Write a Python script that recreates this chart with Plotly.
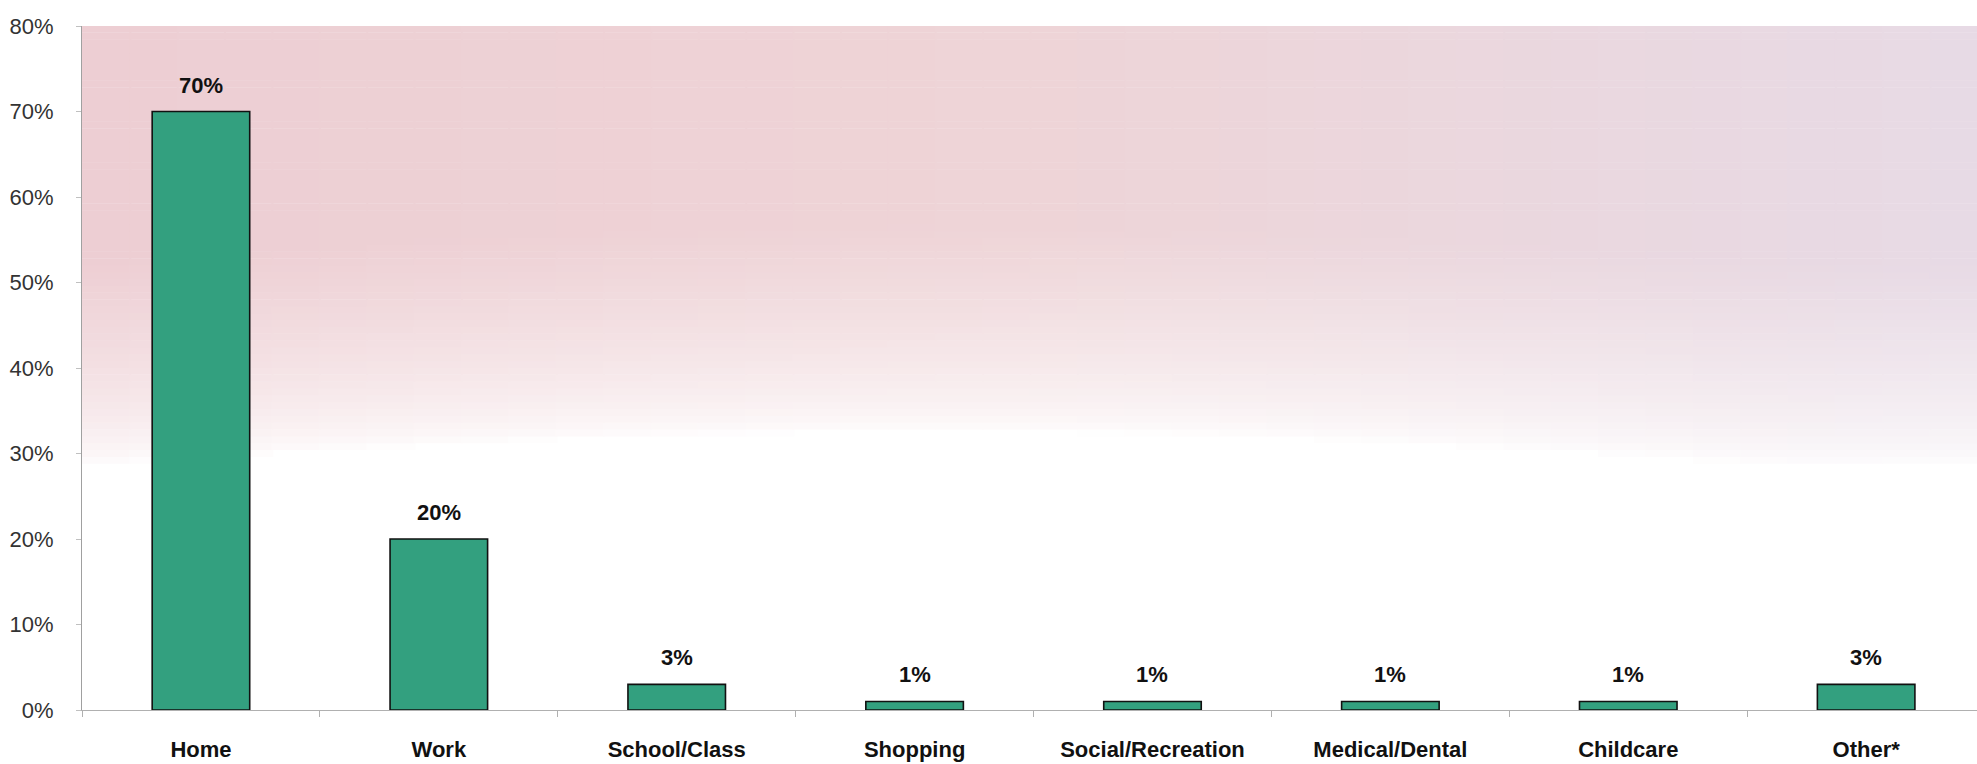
import math
import plotly.graph_objects as go

categories = ["Home", "Work", "School/Class", "Shopping", "Social/Recreation",
              "Medical/Dental", "Childcare", "Other*"]
values = [70, 20, 3, 1, 1, 1, 1, 3]
value_labels = ["70%", "20%", "3%", "1%", "1%", "1%", "1%", "3%"]
y_ticks = [0, 10, 20, 30, 40, 50, 60, 70, 80]
y_tick_labels = ["0%", "10%", "20%", "30%", "40%", "50%", "60%", "70%", "80%"]

fig = go.Figure()
fig.add_trace(go.Bar(
    x=categories, y=values, width=0.41,
    marker=dict(color="#33a07f", line=dict(color="#111111", width=1.6)),
    hoverinfo="skip", showlegend=False,
))

for c, v, t in zip(categories, values, value_labels):
    fig.add_annotation(x=c, y=v, text="<b>%s</b>" % t, showarrow=False,
                       yanchor="bottom", yshift=12,
                       font=dict(family="Liberation Sans, Arial", size=22, color="#111111"))

# background gradient (pink top fading to white)
def lerp(a, b, t):
    return a + (b - a) * t

left_c = (237, 206, 211)
mid_c = (238, 212, 215)
right_c = (231, 218, 229)
ncol, nrow = 40, 100
shapes = []
for i in range(ncol):
    fx = (i + 0.5) / ncol
    if fx < 0.5:
        col = [lerp(left_c[k], mid_c[k], fx / 0.5) for k in range(3)]
    else:
        col = [lerp(mid_c[k], right_c[k], (fx - 0.5) / 0.5) for k in range(3)]
    lo = 28.5 + 4 * math.sin(math.pi * min(fx / 0.9, 1.0))
    hi = lo + 24
    for j in range(nrow):
        y0 = 80 * j / nrow
        y1 = 80 * (j + 1) / nrow
        ym = (y0 + y1) / 2
        a = min(1.0, max(0.0, (ym - lo) / (hi - lo))) ** 0.6
        if a <= 0:
            continue
        r = round(lerp(255, col[0], a))
        g = round(lerp(255, col[1], a))
        b = round(lerp(255, col[2], a))
        shapes.append(dict(type="rect", xref="paper", yref="y",
                           x0=i / ncol, x1=(i + 1) / ncol + 0.001,
                           y0=y0, y1=y1 + 0.05, layer="below",
                           line=dict(width=0), fillcolor="rgb(%d,%d,%d)" % (r, g, b)))

fig.update_layout(
    width=1977, height=764,
    margin=dict(l=82, r=0, t=26, b=54),
    paper_bgcolor="white", plot_bgcolor="white",
    shapes=shapes,
    xaxis=dict(range=[-0.5, 7.466], showgrid=False, showline=True,
               linecolor="#b0b0b0", linewidth=1, ticks="outside",
               tickson="boundaries", ticklen=6, tickcolor="#b0b0b0",
               tickmode="array", tickvals=categories,
               ticktext=["<b>%s</b>" % c for c in categories],
               tickfont=dict(family="Liberation Sans, Arial", size=22, color="#111111"),
               ticklabelstandoff=20, zeroline=False),
    yaxis=dict(range=[0, 80], tickmode="array", tickvals=y_ticks, ticktext=y_tick_labels,
               showgrid=False, showline=True, linecolor="#a0a0a0", linewidth=1,
               ticks="outside", ticklen=5, tickcolor="#c0c0c0", zeroline=False,
               tickfont=dict(family="Liberation Sans, Arial", size=22, color="#333333"),
               ticklabelstandoff=18),
)

fig.write_html("out.html")
